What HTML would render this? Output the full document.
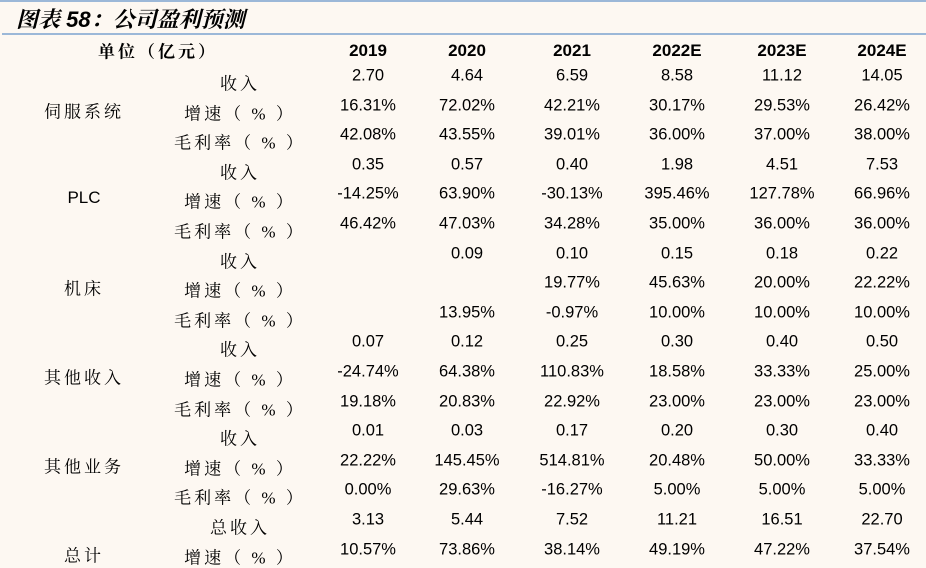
<!DOCTYPE html>
<html><head><meta charset="utf-8">
<style>
body{margin:0;width:926px;height:561px;overflow:hidden;background:#fdf8f2;position:relative;font-family:"Liberation Sans","Noto Sans CJK SC",sans-serif;color:#000}
.c{position:absolute;transform:translate(-50%,-50%);white-space:nowrap;font-size:16.5px}
.cj{font-family:"Liberation Serif","Noto Serif CJK SC",serif;font-size:17px;letter-spacing:3px}
</style></head><body>
<div style="position:absolute;left:0;top:0;width:926px;height:2px;background:#9cb8d8"></div>
<div style="position:absolute;left:16px;top:3px;font-size:22px;font-weight:bold;font-style:italic;font-family:'Liberation Sans','Noto Serif CJK SC',serif">图表 58：公司盈利预测</div>
<div style="position:absolute;left:2px;top:33px;width:924px;height:2px;background:#9cb8d8"></div>
<div id="t"></div>
<script>
const years=["2019","2020","2021","2022E","2023E","2024E"];
const groups=["伺服系统","PLC","机床","其他收入","其他业务","总计"];
const metrics=[["收入","增速（ % ）","毛利率（ % ）"],["收入","增速（ % ）","毛利率（ % ）"],["收入","增速（ % ）","毛利率（ % ）"],["收入","增速（ % ）","毛利率（ % ）"],["收入","增速（ % ）","毛利率（ % ）"],["总收入","增速（ % ）"]];
const values=[
["2.70","4.64","6.59","8.58","11.12","14.05"],
["16.31%","72.02%","42.21%","30.17%","29.53%","26.42%"],
["42.08%","43.55%","39.01%","36.00%","37.00%","38.00%"],
["0.35","0.57","0.40","1.98","4.51","7.53"],
["-14.25%","63.90%","-30.13%","395.46%","127.78%","66.96%"],
["46.42%","47.03%","34.28%","35.00%","36.00%","36.00%"],
["","0.09","0.10","0.15","0.18","0.22"],
["","","19.77%","45.63%","20.00%","22.22%"],
["","13.95%","-0.97%","10.00%","10.00%","10.00%"],
["0.07","0.12","0.25","0.30","0.40","0.50"],
["-24.74%","64.38%","110.83%","18.58%","33.33%","25.00%"],
["19.18%","20.83%","22.92%","23.00%","23.00%","23.00%"],
["0.01","0.03","0.17","0.20","0.30","0.40"],
["22.22%","145.45%","514.81%","20.48%","50.00%","33.33%"],
["0.00%","29.63%","-16.27%","5.00%","5.00%","5.00%"],
["3.13","5.44","7.52","11.21","16.51","22.70"],
["10.57%","73.86%","38.14%","49.19%","47.22%","37.54%"]];
const colX=[368,467,572,677,782,882];
const t=document.getElementById('t');
function add(txt,x,y,cls,bold){const d=document.createElement('div');d.className='c '+(cls||'');d.style.left=x+'px';d.style.top=y+'px';if(bold)d.style.fontWeight='bold';d.textContent=txt;t.appendChild(d);return d;}
let h=add("单位（亿元）",158,50,'cj',true);


years.forEach((y,i)=>{const d=add(y,colX[i],51,'',true);d.style.fontSize='17px';

});
const rowH=29.6,y0=76;
let r=0;
groups.forEach((g,gi)=>{
 const gy=y0+(r+1)*rowH;
 const gd=add(g,84,gy+4,g=="PLC"?'':'cj');
 if(g=="PLC")gd.style.fontSize='17px';
 
 
 metrics[gi].forEach((m,mi)=>{
  const yy=y0+r*rowH;
  const md=add(m,240,yy+6,'cj');
  
  
  values[r].forEach((v,ci)=>{if(!v)return;const vd=add(v,colX[ci],yy);
   
   });
  r++;
 });
});
</script>
</body></html>
